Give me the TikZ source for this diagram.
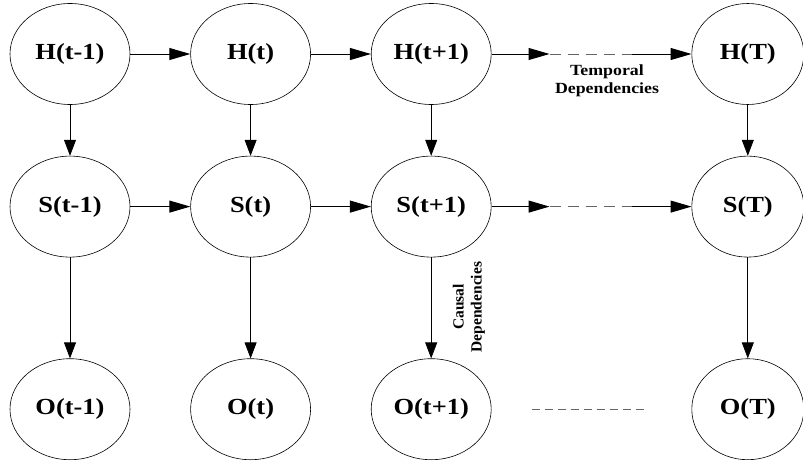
\documentclass[tikz,border=0pt]{standalone}
\usepackage{fontspec}
\setmainfont{Liberation Serif}[FakeStretch=1.15]
\newfontfamily\plainserif{Liberation Serif}
\usetikzlibrary{shapes.geometric,arrows.meta,positioning}

\begin{document}
\begin{tikzpicture}[x=1pt, y=1pt,
    var/.style={ellipse,
          draw,
          line width=0.6pt,
          inner sep=0pt,
          minimum width=120pt,
          minimum height=101pt,
          font=\bfseries\fontsize{23}{27}\selectfont},
    lastvar/.style={var, minimum width=112pt},
    harrow/.style={-{Triangle[length=21pt,width=12pt]}, line width=1pt},
    varrow/.style={-{Triangle[length=16pt,width=12pt]}, line width=0.7pt},
    gap/.style={dash pattern=on 11pt off 7pt, line width=0.8pt, draw=black!60},
    dep/.style={align=center, font=\bfseries\fontsize{15.5}{18}\selectfont}]
   \useasboundingbox (0,0) rectangle (803,-463);
   % hidden layer
   \node[var] at (70,-54) (h0) {H(t-1)};
   \node[var, right=60pt of h0] (h1) {H(t)};
   \node[var, right=60pt of h1] (h2) {H(t+1)};
   \node[lastvar, right=200pt of h2] (hT) {H(T)};
   % state layer
   \node[var, below=51pt of h0] (s0) {S(t-1)};
   \node[var, below=51pt of h1] (s1) {S(t)};
   \node[var, below=51pt of h2] (s2) {S(t+1)};
   \node[lastvar, below=51pt of hT] (sT) {S(T)};
   % observed layer
   \node[var, below=101pt of s0] (o0) {O(t-1)};
   \node[var, below=101pt of s1] (o1) {O(t)};
   \node[var, below=101pt of s2] (o2) {O(t+1)};
   \node[lastvar, below=101pt of sT] (oT) {O(T)};
   % ends of the dashed gaps
   \coordinate[right=58pt of h2] (hA);
   \coordinate[left=60pt of hT] (hB);
   \coordinate[right=58pt of s2] (sA);
   \coordinate[left=60pt of sT] (sB);
   \coordinate[right=40pt of o2] (oA);
   \coordinate[left=45pt of oT] (oB);
   % temporal arrows
   \draw[harrow] (h0) -- (h1);
   \draw[harrow] (h1) -- (h2);
   \draw[harrow] (h2) -- (hA);
   \draw[gap] (hA) -- (hB);
   \draw[harrow] (hB) -- (hT);
   \draw[harrow] (s0) -- (s1);
   \draw[harrow] (s1) -- (s2);
   \draw[harrow] (s2) -- (sA);
   \draw[gap] (sA) -- (sB);
   \draw[harrow] (sB) -- (sT);
   \draw[gap, dash pattern=on 8pt off 5pt] (oA) -- (oB);
   % causal arrows
   \foreach \c in {0,1,2,T} {
      \draw[varrow] (h\c) -- (s\c);
      \draw[varrow] (s\c) -- (o\c);
   }
   % labels
   \node[dep] (tdep) at (607,-81) {Temporal\\Dependencies};
   \node[dep, font=\plainserif\bfseries\fontsize{15.5}{18}\selectfont,
         rotate=90] (cdep) at (469,-307) {Causal\\Dependencies};
\end{tikzpicture}
\end{document}
